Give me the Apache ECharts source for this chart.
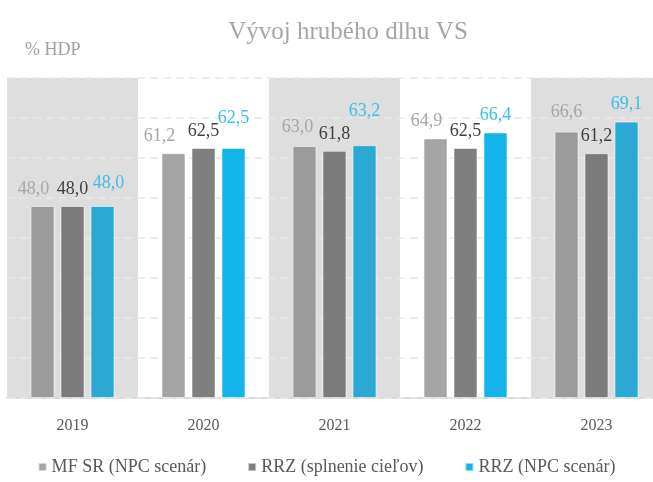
<!DOCTYPE html>
<html>
<head>
<meta charset="utf-8">
<script src="https://cdn.jsdelivr.net/npm/echarts@6/dist/echarts.min.js"></script>
<style>
  html, body { margin: 0; padding: 0; background: #fff; }
  #main { width: 653px; height: 482px; }
</style>
</head>
<body>
<div id="main"></div>
<script>
var years = ['2019', '2020', '2021', '2022', '2023'];
var seriesNames = ['MF SR (NPC scenár)', 'RRZ (splnenie cieľov)', 'RRZ (NPC scenár)'];
var mfNpc = [48.0, 61.2, 63.0, 64.9, 66.6];
var rrzCiele = [48.0, 62.5, 61.8, 62.5, 61.2];
var rrzNpc = [48.0, 62.5, 63.2, 66.4, 69.1];

// bar colours: on white band / under gray band
var colWhite = ['#a5a5a5', '#7f7f7f', '#13b4e9'];
var colGray = ['#9b9b9b', '#7b7b7b', '#2ba8d3'];
var labelCol = ['#a6a6a6', '#404040', '#3dbde8'];
// label nudges so they don't collide (like in the original)
var labelShift = [
  [[-9, 0], [-14, 0], [-7, -2], [-9, 0], [0, -2]],
  [[0, 0], [0, 0], [0, 0], [0, 0], [0, 0]],
  [[6, -6], [0, -13], [0, -17], [0, 0], [0, 0]]
];

var font = '"Liberation Serif", "DejaVu Serif", serif';

function makeData(values, s) {
  return values.map(function (v, i) {
    return {
      value: v,
      itemStyle: { color: i % 2 === 0 ? colGray[s] : colWhite[s] },
      label: { offset: labelShift[s][i] }
    };
  });
}

function makeSeries(values, s) {
  return {
    name: seriesNames[s],
    type: 'bar',
    barWidth: 24,
    barGap: '25%',
    data: makeData(values, s),
    itemStyle: {
      color: colWhite[s],
      borderColor: 'rgba(255,255,255,0.55)',
      borderWidth: 1,
      borderRadius: 1
    },
    label: {
      show: true,
      position: 'top',
      distance: 8,
      fontFamily: font,
      fontSize: 18,
      lineHeight: 18,
      color: labelCol[s],
      formatter: function (p) { return p.value.toFixed(1).replace('.', ','); }
    }
  };
}

var myChart = echarts.init(document.getElementById('main'));
var option = {
  animation: false,
  title: [{
    text: 'Vývoj hrubého dlhu VS',
    left: 343,
    top: 15,
    textAlign: 'center',
    textStyle: { fontFamily: font, fontWeight: 'normal', fontSize: 25, color: '#a6a6a6' }
  }, {
    text: '% HDP',
    left: 20,
    top: 36,
    textStyle: { fontFamily: font, fontWeight: 'normal', fontSize: 18, color: '#a0a0a0' }
  }],
  legend: {
    data: seriesNames,
    top: 453,
    left: 'center',
    icon: 'rect',
    itemWidth: 8,
    itemHeight: 8,
    itemGap: 41,
    textStyle: { fontFamily: font, fontSize: 18, color: '#595959' }
  },
  grid: { left: 7, top: 78, width: 655, height: 320, containLabel: false, outerBoundsMode: 'none' },
  xAxis: {
    type: 'category',
    data: years,
    z: 0,
    axisTick: { show: false },
    axisLine: { lineStyle: { color: '#d9d9d9', width: 2 } },
    axisLabel: { fontFamily: font, fontSize: 16, color: '#595959', margin: 20 },
    splitArea: { show: true, areaStyle: { color: ['#dedede', '#ffffff'] } }
  },
  yAxis: {
    type: 'value',
    min: 0,
    max: 80,
    interval: 10,
    z: 1,
    axisLabel: { show: false },
    axisLine: { show: false },
    axisTick: { show: false },
    splitLine: { lineStyle: { color: '#e9e9e9', type: [8, 5], width: 1.5 } }
  },
  series: [
    makeSeries(mfNpc, 0),
    makeSeries(rrzCiele, 1),
    makeSeries(rrzNpc, 2)
  ]
};
myChart.setOption(option);
</script>
</body>
</html>
